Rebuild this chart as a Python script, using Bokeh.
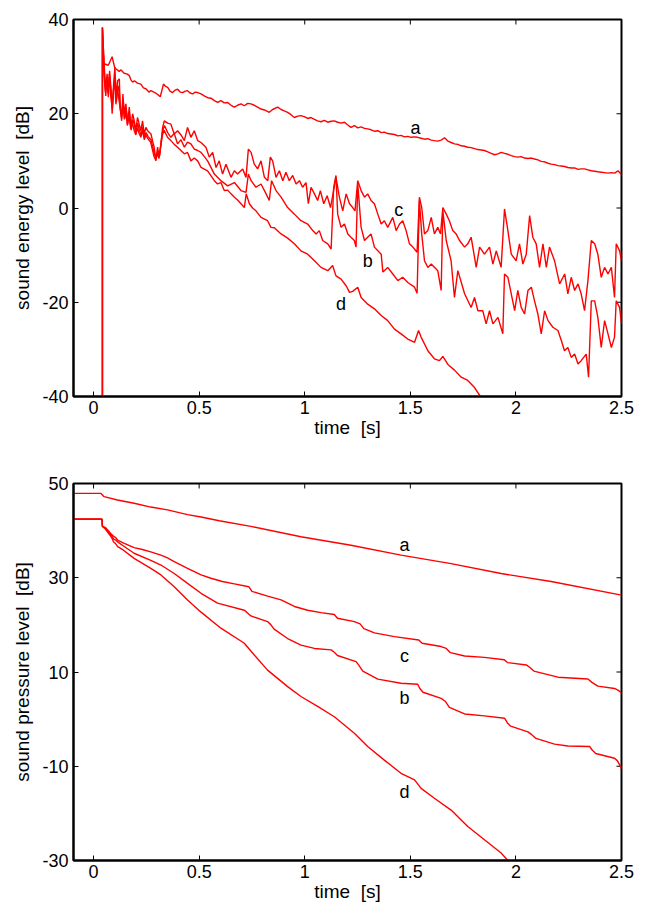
import math
from bokeh.plotting import figure
from bokeh.layouts import column
from bokeh.models import Range1d, FixedTicker, ColumnDataSource
from bokeh.core.properties import value
from bokeh.embed import file_html
from bokeh.resources import INLINE

FONT = "Liberation Sans"
RED = "#ff0000"

# ---------------- axis ticks ----------------
X_RANGE = (-0.095, 2.5)
X_TICKS = [0, 0.5, 1, 1.5, 2, 2.5]
X_TICK_LABELS = ["0", "0.5", "1", "1.5", "2", "2.5"]
TOP_Y_RANGE = (-40, 40)
TOP_Y_TICKS = [-40, -20, 0, 20, 40]
TOP_Y_TICK_LABELS = ["-40", "-20", "0", "20", "40"]
BOT_Y_RANGE = (-30, 50)
BOT_Y_TICKS = [-30, -10, 10, 30, 50]
BOT_Y_TICK_LABELS = ["-30", "-10", "10", "30", "50"]

# ---------------- top panel: sound energy level ----------------
TOP_A_T = [0.043, 0.055, 0.070, 0.088, 0.100, 0.107, 0.121, 0.130, 0.145, 0.160,
           0.169, 0.177, 0.185, 0.193, 0.208, 0.224, 0.236, 0.248, 0.262, 0.272,
           0.290, 0.306, 0.316, 0.331, 0.341, 0.351, 0.362, 0.374, 0.386, 0.398,
           0.410, 0.422, 0.434, 0.445, 0.457, 0.469, 0.481, 0.493, 0.509, 0.524,
           0.540, 0.556, 0.572, 0.588, 0.603, 0.619, 0.635, 0.651, 0.667, 0.682,
           0.698, 0.714, 0.730, 0.745, 0.761, 0.777, 0.793, 0.809, 0.832, 0.848,
           0.872, 0.888, 0.903, 0.919, 0.935, 0.951, 0.967, 0.982, 0.998, 1.014,
           1.030, 1.046, 1.061, 1.077, 1.093, 1.109, 1.125, 1.140, 1.156, 1.172,
           1.188, 1.204, 1.219, 1.235, 1.251, 1.267, 1.283, 1.298, 1.314, 1.330,
           1.346, 1.362, 1.377, 1.393, 1.409, 1.425, 1.441, 1.456, 1.472, 1.488,
           1.504, 1.520, 1.535, 1.551, 1.567, 1.583, 1.599, 1.614, 1.630, 1.646,
           1.662, 1.678, 1.693, 1.709, 1.725, 1.741, 1.757, 1.772, 1.788, 1.804,
           1.820, 1.836, 1.851, 1.867, 1.883, 1.899, 1.915, 1.930, 1.946, 1.962,
           1.978, 1.994, 2.009, 2.025, 2.041, 2.057, 2.073, 2.088, 2.104, 2.120,
           2.136, 2.152, 2.167, 2.183, 2.199, 2.215, 2.230, 2.246, 2.262, 2.278,
           2.294, 2.309, 2.325, 2.341, 2.357, 2.373, 2.388, 2.404, 2.420, 2.436,
           2.452, 2.468, 2.483, 2.500]
TOP_A_V = [30.9, 30.5, 30.3, 32.1, 29.8, 29.5, 29.0, 29.3, 28.6, 28.4,
           28.1, 27.2, 26.7, 27.0, 26.5, 26.3, 25.5, 25.3, 24.6, 24.9,
           24.5, 24.0, 23.6, 26.3, 25.8, 25.6, 24.8, 24.5, 25.0, 25.2,
           24.6, 24.5, 24.8, 24.9, 24.4, 24.2, 24.6, 24.5, 24.2, 23.8,
           23.4, 23.3, 22.8, 22.4, 22.8, 22.3, 22.4, 21.8, 21.4, 21.8,
           22.1, 21.7, 22.2, 22.1, 21.8, 21.4, 21.0, 20.8, 20.3, 20.9,
           21.4, 20.9, 20.6, 20.3, 19.8, 19.2, 19.5, 19.6, 19.4, 19.0,
           19.2, 18.8, 18.5, 18.3, 18.6, 18.2, 18.4, 18.5, 18.2, 18.0,
           18.2, 17.6, 17.1, 17.5, 17.0, 17.2, 16.9, 16.8, 16.6, 16.3,
           16.4, 16.0, 16.1, 15.8, 15.7, 15.6, 15.3, 15.4, 15.1, 15.2,
           15.0, 15.1, 15.0, 14.8, 14.6, 14.7, 14.4, 14.3, 14.2, 14.4,
           14.9, 14.2, 13.9, 13.6, 13.5, 13.2, 13.1, 12.9, 12.8, 12.6,
           12.4, 12.3, 12.2, 11.9, 11.6, 11.3, 11.5, 11.8, 11.6, 11.4,
           11.1, 10.9, 10.8, 10.9, 10.6, 10.5, 10.6, 10.4, 10.2, 9.9,
           9.8, 9.5, 9.3, 9.2, 9.0, 8.9, 8.8, 8.6, 8.5, 8.5,
           8.2, 8.3, 8.3, 8.1, 7.9, 7.8, 7.7, 7.6, 7.5, 7.4,
           7.5, 7.4, 7.9, 7.1]

TOP_B_T = [0.042, 0.042, 0.050, 0.057, 0.064, 0.070, 0.076, 0.083, 0.089, 0.096,
           0.102, 0.108, 0.115, 0.122, 0.128, 0.134, 0.140, 0.147, 0.154, 0.162,
           0.170, 0.178, 0.186, 0.194, 0.201, 0.209, 0.217, 0.225, 0.233, 0.241,
           0.249, 0.258, 0.272, 0.280, 0.288, 0.296, 0.304, 0.312, 0.320, 0.328,
           0.336, 0.351, 0.366, 0.382, 0.398, 0.414, 0.430, 0.445, 0.461, 0.477,
           0.493,
           0.509, 0.540, 0.572, 0.603, 0.635, 0.667, 0.698, 0.722, 0.733, 0.746,
           0.769, 0.793, 0.817, 0.832, 0.843, 0.864, 0.888, 0.919, 0.951, 0.982,
           1.014, 1.038, 1.054, 1.069, 1.085, 1.109, 1.125, 1.137, 1.148, 1.156,
           1.172, 1.188, 1.204, 1.219, 1.235, 1.243, 1.251, 1.267, 1.283, 1.298,
           1.314, 1.330, 1.362, 1.370, 1.393, 1.417, 1.441, 1.464, 1.488, 1.520,
           1.532, 1.543, 1.554, 1.567, 1.583, 1.599, 1.630, 1.646, 1.654, 1.670,
           1.693, 1.709, 1.725, 1.757, 1.788, 1.804, 1.820, 1.843, 1.859, 1.875,
           1.891, 1.915, 1.938, 1.946, 1.962, 1.978, 1.994, 2.009, 2.025, 2.041,
           2.057, 2.073, 2.088, 2.104, 2.120, 2.136, 2.152, 2.175, 2.199, 2.215,
           2.230, 2.246, 2.262, 2.278, 2.294, 2.309, 2.333, 2.344, 2.357, 2.373,
           2.388, 2.404, 2.420, 2.436, 2.452, 2.467, 2.475, 2.491, 2.500]
TOP_B_V = [-40.0, 38.3, 29.5, 25.0, 28.5, 23.5, 27.5, 24.8, 21.0, 25.5,
           28.0, 22.5, 26.0, 24.5, 20.5, 19.5, 23.0, 19.0, 21.0, 18.5,
           20.0, 16.5, 18.8, 17.5, 15.8, 18.0, 16.5, 15.5, 17.2, 15.0,
           16.0, 15.2, 14.5, 13.0, 11.5, 10.5, 12.0, 11.0, 14.0, 16.5,
           17.5, 16.0, 15.0, 15.8, 13.6, 14.5, 12.9, 14.0, 13.6, 12.5,
           12.2,
           11.8, 10.0, 7.2, 5.8, 4.7, 5.4, 3.7, 3.3, 7.2, 5.8,
           4.4, 5.1, 3.0, 1.6, 5.8, 3.7, 2.3, 0.1, -1.3, -2.7,
           -3.4, -4.8, -5.5, -4.8, -6.9, -7.6, -8.7, 4.4, 6.9, -1.3,
           -4.1, -3.4, -5.5, -6.2, -6.9, -8.3, 5.1, -4.1, -6.9, -6.2,
           -5.5, -8.3, -9.8, -13.6, -12.6, -14.0, -15.4, -14.7, -15.8, -16.8,
           -18.1, 1.6, -5.5, -11.2, -12.6, -11.9, -13.3, -17.5, -0.6, -6.9,
           -11.2, -19.0, -13.3, -18.2, -21.1, -19.0, -21.8, -21.8, -24.6, -21.8,
           -24.6, -23.2, -26.7, -14.0, -14.7, -18.2, -21.8, -17.5, -21.1, -22.5,
           -17.5, -16.8, -19.7, -22.5, -26.7, -21.8, -23.9, -25.3, -26.0, -28.1,
           -30.3, -29.6, -31.7, -31.0, -33.1, -32.4, -31.0, -35.9, -19.7, -19.7,
           -23.2, -29.6, -23.9, -26.7, -29.6, -27.4, -19.7, -21.1, -24.6]

TOP_C_T = [0.042, 0.042, 0.050, 0.058, 0.063, 0.069, 0.076, 0.082, 0.088, 0.095,
           0.101, 0.107, 0.114, 0.122, 0.126, 0.133, 0.139, 0.145, 0.153, 0.161,
           0.169, 0.177, 0.185, 0.193, 0.200, 0.208, 0.216, 0.224, 0.232, 0.240,
           0.248, 0.256, 0.272, 0.279, 0.287, 0.295, 0.303, 0.311, 0.319, 0.327,
           0.335, 0.351, 0.366, 0.382, 0.398, 0.414, 0.430, 0.445, 0.461, 0.477,
           0.493, 0.509, 0.532, 0.548, 0.564, 0.580, 0.595, 0.611, 0.627, 0.651,
           0.667, 0.682, 0.706, 0.722, 0.733, 0.746, 0.761, 0.777, 0.793, 0.809,
           0.825, 0.837, 0.848, 0.864, 0.880, 0.896, 0.911, 0.927, 0.943, 0.959,
           0.975, 0.990, 1.006, 1.017, 1.030, 1.046, 1.061, 1.074, 1.090, 1.106,
           1.122, 1.148, 1.164, 1.180, 1.196, 1.212, 1.227, 1.238, 1.251, 1.267,
           1.283, 1.298, 1.314, 1.330, 1.346, 1.362, 1.377, 1.393, 1.417, 1.433,
           1.449, 1.464, 1.480, 1.496, 1.512, 1.532, 1.543, 1.554, 1.567, 1.583,
           1.599, 1.614, 1.630, 1.643, 1.654, 1.670, 1.685, 1.701, 1.717, 1.733,
           1.757, 1.772, 1.788, 1.812, 1.828, 1.851, 1.875, 1.891, 1.907, 1.930,
           1.946, 1.962, 1.978, 2.001, 2.017, 2.033, 2.049, 2.065, 2.080, 2.096,
           2.112, 2.128, 2.144, 2.159, 2.183, 2.207, 2.231, 2.246, 2.262, 2.278,
           2.294, 2.309, 2.325, 2.341, 2.357, 2.373, 2.388, 2.404, 2.420, 2.436,
           2.452, 2.467, 2.475, 2.491, 2.500]
TOP_C_V = [-40.0, 38.3, 30.6, 23.8, 27.7, 24.2, 29.1, 25.6, 20.0, 26.3,
           29.9, 23.5, 27.0, 27.4, 21.4, 18.5, 24.2, 20.0, 22.1, 17.8,
           21.4, 17.1, 20.0, 18.5, 16.4, 19.2, 17.8, 16.4, 18.5, 15.7,
           17.1, 16.4, 15.7, 14.3, 12.9, 10.0, 12.9, 10.8, 13.6, 17.1,
           18.5, 18.0, 17.8, 15.7, 16.4, 15.5, 14.3, 17.1, 15.0, 16.4,
           14.3, 13.9, 12.9, 10.8, 11.8, 8.6, 10.0, 7.2, 9.3, 6.5,
           7.9, 7.2, 8.3, 6.5, 12.5, 11.8, 9.3, 8.3, 10.0, 6.5,
           5.8, 10.8, 10.0, 6.5, 7.9, 5.8, 7.6, 5.8, 6.9, 5.1,
           5.8, 4.4, 5.4, 0.9, 4.4, 3.0, 1.6, 3.7, 0.9, 2.6,
           0.1, 6.5, 2.3, -0.6, 3.0, 0.9, 0.1, -0.6, 5.8, 3.7,
           2.3, 3.0, 1.6, 0.9, -1.3, -3.4, -2.7, -4.1, -2.0, -4.8,
           -3.4, -2.7, -4.8, -7.6, -8.3, -9.4, 2.3, 0.1, -5.5, -4.8,
           -2.0, -5.5, -4.1, -5.5, 0.1, -1.3, -2.7, -4.8, -5.5, -6.9,
           -8.3, -7.6, -6.2, -12.6, -8.3, -9.8, -8.3, -11.9, -9.1, -12.6,
           -0.2, -4.8, -9.8, -11.2, -7.6, -11.9, -9.8, -1.6, -6.2, -7.6,
           -12.6, -7.6, -12.6, -8.3, -11.2, -16.1, -14.0, -18.2, -14.7, -17.5,
           -16.1, -18.2, -21.8, -15.4, -6.9, -7.6, -9.8, -14.7, -12.6, -14.0,
           -12.6, -19.0, -7.6, -9.1, -11.2]

TOP_D_T = [0.042, 0.042, 0.050, 0.056, 0.062, 0.068, 0.075, 0.081, 0.088, 0.094,
           0.100, 0.106, 0.113, 0.120, 0.127, 0.133, 0.139, 0.146, 0.153, 0.160,
           0.168, 0.176, 0.184, 0.192, 0.200, 0.208, 0.216, 0.224, 0.232, 0.240,
           0.248, 0.256, 0.270, 0.278, 0.286, 0.294, 0.302, 0.310, 0.318, 0.326,
           0.334, 0.350, 0.366, 0.382, 0.398, 0.414, 0.430, 0.445, 0.461, 0.477,
           0.493,
           0.509, 0.540, 0.572, 0.587, 0.603, 0.619, 0.635, 0.651, 0.667, 0.682,
           0.698, 0.714, 0.723, 0.738, 0.753, 0.769, 0.793, 0.824, 0.840, 0.856,
           0.888, 0.919, 0.951, 0.982, 1.014, 1.046, 1.077, 1.109, 1.132, 1.148,
           1.172, 1.196, 1.212, 1.227, 1.251, 1.267, 1.298, 1.330, 1.362, 1.393,
           1.425, 1.456, 1.488, 1.520, 1.539, 1.551, 1.583, 1.614, 1.638, 1.654,
           1.678, 1.709, 1.741, 1.772, 1.804, 1.832, 1.860]
TOP_D_V = [-40.0, 38.3, 28.0, 24.5, 27.0, 24.8, 28.5, 24.0, 21.5, 25.0,
           27.0, 22.0, 25.5, 23.0, 21.0, 19.0, 22.5, 18.8, 20.5, 17.5,
           19.5, 16.8, 18.0, 16.5, 15.5, 17.0, 15.8, 15.0, 16.5, 14.5,
           15.5, 14.8, 14.0, 12.5, 11.0, 10.2, 11.5, 10.5, 13.0, 15.5,
           16.5, 15.0, 14.3, 13.5, 12.9, 12.2, 11.5, 11.8, 10.0, 10.6,
           10.0,
           8.6, 7.9, 5.8, 5.1, 5.4, 3.7, 3.8, 3.0, 2.3, 1.7,
           0.9, 0.1, 3.0, 0.9, 0.0, -0.6, -2.0, -2.7, -4.1, -4.2,
           -5.5, -6.4, -7.6, -9.1, -9.8, -11.2, -12.6, -13.3, -12.2, -14.4,
           -15.1, -16.5, -17.9, -17.7, -16.8, -19.0, -20.4, -21.4, -22.8, -23.9,
           -25.7, -26.7, -27.8, -28.5, -26.0, -27.4, -30.3, -32.0, -32.4, -31.5,
           -33.2, -34.4, -35.9, -36.6, -38.1, -40.0, -41.8]

# curve letters: baseline positions
TOP_LABELS = ["a", "b", "c", "d"]
TOP_LABEL_T = [1.524, 1.298, 1.445, 1.172]
TOP_LABEL_V = [16.9, -11.3, -0.4, -20.4]

# ---------------- bottom panel: sound pressure level ----------------
BOT_A_T = [-0.1, 0.035, 0.050, 0.113, 0.192, 0.271, 0.350, 0.445, 0.509, 0.595,
           0.745, 0.982, 1.219, 1.456, 1.693, 1.930, 2.167, 2.500]
BOT_A_V = [47.9, 47.9, 47.2, 46.5, 45.8, 45.0, 44.4, 43.4, 42.9, 42.1,
           40.9, 38.7, 36.9, 34.8, 33.0, 30.9, 29.2, 26.3]

BOT_B_T = [-0.1, 0.040, 0.042, 0.055, 0.070, 0.085, 0.095, 0.105, 0.114, 0.140,
           0.192, 0.271, 0.319, 0.382, 0.445, 0.509, 0.587, 0.714, 0.725, 0.745,
           0.824, 0.840, 0.855, 0.919, 0.982, 1.046, 1.125, 1.140, 1.155, 1.243,
           1.255, 1.275, 1.346, 1.456, 1.535, 1.545, 1.560, 1.646, 1.665, 1.685,
           1.757, 1.851, 1.946, 1.960, 1.975, 2.057, 2.075, 2.095, 2.183, 2.246,
           2.349, 2.362, 2.378, 2.467, 2.480, 2.491, 2.500]
BOT_B_V = [42.4, 42.4, 40.9, 40.5, 39.7, 39.0, 38.2, 38.0, 37.6, 36.8,
           35.2, 33.7, 32.7, 30.9, 28.8, 26.7, 24.6, 23.1, 22.7, 21.9,
           20.7, 20.0, 19.1, 17.1, 15.7, 15.0, 14.7, 14.2, 13.5, 12.2,
           11.5, 10.2, 8.5, 7.6, 7.4, 6.5, 5.7, 4.4, 3.8, 2.5,
           1.1, 0.7, 0.2, -0.8, -1.5, -2.7, -3.3, -4.1, -5.3, -5.7,
           -5.8, -6.6, -7.3, -8.3, -8.8, -9.7, -10.6]

BOT_C_T = [-0.1, 0.040, 0.042, 0.055, 0.070, 0.085, 0.095, 0.105, 0.114, 0.140,
           0.192, 0.231, 0.271, 0.319, 0.350, 0.382, 0.445,
           0.509, 0.556, 0.610, 0.667, 0.735, 0.750, 0.824, 0.888, 0.951, 1.014,
           1.077, 1.140, 1.155, 1.235, 1.262, 1.280, 1.330, 1.425, 1.540, 1.556,
           1.646, 1.670, 1.690, 1.757, 1.851, 1.945, 1.960, 2.049, 2.065, 2.085,
           2.199, 2.341, 2.360, 2.388, 2.467, 2.485, 2.500]
BOT_C_V = [42.4, 42.4, 40.9, 40.7, 40.0, 39.2, 38.8, 38.5, 38.0, 37.4,
           36.4, 36.0, 35.5, 34.8, 34.2, 33.4, 32.0,
           30.6, 29.9, 29.2, 28.7, 28.1, 27.1, 26.1, 25.3, 23.9, 23.1,
           22.6, 22.2, 21.4, 20.7, 20.2, 19.2, 18.3, 17.5, 16.8, 16.1,
           15.4, 15.0, 14.1, 13.4, 13.1, 12.6, 12.0, 11.5, 11.0, 10.2,
           8.9, 8.5, 7.8, 7.0, 6.5, 6.1, 5.6]

BOT_D_T = [-0.1, 0.040, 0.042, 0.055, 0.070, 0.085, 0.095, 0.105, 0.114, 0.140,
           0.192, 0.271, 0.319, 0.382, 0.445, 0.509, 0.603, 0.714, 0.761, 0.824,
           0.919, 0.982, 1.061, 1.140, 1.235, 1.298, 1.377, 1.456, 1.520, 1.551,
           1.614, 1.693, 1.772, 1.851, 1.930, 1.962, 2.000]
BOT_D_V = [42.4, 42.4, 40.9, 40.4, 39.5, 38.6, 37.6, 37.2, 36.6, 35.9,
           34.1, 32.0, 30.6, 28.1, 25.3, 22.7, 19.3, 16.1, 13.6, 10.4,
           6.9, 4.8, 2.7, 0.5, -3.0, -5.8, -8.7, -11.5, -12.9, -14.7,
           -16.8, -19.3, -22.8, -25.6, -28.4, -30.0, -32.0]

BOT_LABELS = ["a", "b", "c", "d"]
BOT_LABEL_T = [1.472, 1.472, 1.472, 1.472]
BOT_LABEL_V = [36.9, 4.4, 13.4, -15.5]


def style_axis(ax, ticks, labels):
    ax.ticker = FixedTicker(ticks=ticks)
    ax.major_label_overrides = {float(t): l for t, l in zip(ticks, labels)}
    ax.axis_line_color = "black"
    ax.axis_line_width = 2
    ax.major_tick_in = 5
    ax.major_tick_out = 0
    ax.major_tick_line_color = "black"
    ax.major_tick_line_width = 1
    ax.minor_tick_line_color = None
    ax.major_label_text_font = FONT
    ax.major_label_text_font_size = "18px"
    ax.major_label_text_color = "black"
    ax.axis_label_text_font = FONT
    ax.axis_label_text_font_style = "normal"
    ax.axis_label_text_font_size = "19px"
    ax.axis_label_text_color = "black"


def make_fig(y_rng, yticks, ylabels, ylabel, b_top, b_bottom,
             series, lab_t, lab_v, labs):
    p = figure(frame_width=548, frame_height=377,
               x_range=Range1d(*X_RANGE), y_range=Range1d(*y_rng),
               output_backend="svg", toolbar_location=None,
               min_border_left=73, min_border_right=26,
               min_border_top=b_top, min_border_bottom=b_bottom)
    p.grid.visible = False
    p.outline_line_color = "black"
    p.outline_line_width = 2
    p.background_fill_color = "white"
    p.border_fill_color = "white"

    bottom = p.below[0]
    left = p.left[0]
    style_axis(bottom, X_TICKS, X_TICK_LABELS)
    style_axis(left, yticks, ylabels)
    bottom.axis_label = "time \u00a0[s]"
    bottom.major_label_standoff = 4
    bottom.axis_label_standoff = 0
    left.axis_label = ylabel
    left.major_label_standoff = 5
    left.axis_label_standoff = 6

    # inward ticks on the top and right edges of the box
    top_src = ColumnDataSource(data=dict(x=X_TICKS, y=[y_rng[1]] * len(X_TICKS)))
    p.ray("x", "y", source=top_src, length=5, length_units="screen",
          angle=-math.pi / 2, line_color="black", line_width=1)
    right_src = ColumnDataSource(data=dict(x=[X_RANGE[1]] * len(yticks), y=yticks))
    p.ray("x", "y", source=right_src, length=5, length_units="screen",
          angle=math.pi, line_color="black", line_width=1)

    for t, v in series:
        src = ColumnDataSource(data=dict(t=t, v=v))
        p.line("t", "v", source=src, line_color=RED, line_width=1.4)

    lsrc = ColumnDataSource(data=dict(t=lab_t, v=lab_v, s=labs))
    p.text("t", "v", text="s", source=lsrc, text_font=value(FONT),
           text_font_size="18px", text_color="black",
           text_align="center", text_baseline="alphabetic")
    return p


p1 = make_fig(TOP_Y_RANGE, TOP_Y_TICKS, TOP_Y_TICK_LABELS,
              "sound energy level \u00a0[dB]", 19, 50,
              [(TOP_A_T, TOP_A_V), (TOP_B_T, TOP_B_V), (TOP_C_T, TOP_C_V), (TOP_D_T, TOP_D_V)],
              TOP_LABEL_T, TOP_LABEL_V, TOP_LABELS)
p2 = make_fig(BOT_Y_RANGE, BOT_Y_TICKS, BOT_Y_TICK_LABELS,
              "sound pressure level \u00a0[dB]", 37, 46,
              [(BOT_A_T, BOT_A_V), (BOT_B_T, BOT_B_V), (BOT_C_T, BOT_C_V), (BOT_D_T, BOT_D_V)],
              BOT_LABEL_T, BOT_LABEL_V, BOT_LABELS)

layout = column(p1, p2, spacing=0)
open("out.html", "w").write(file_html(layout, INLINE))
